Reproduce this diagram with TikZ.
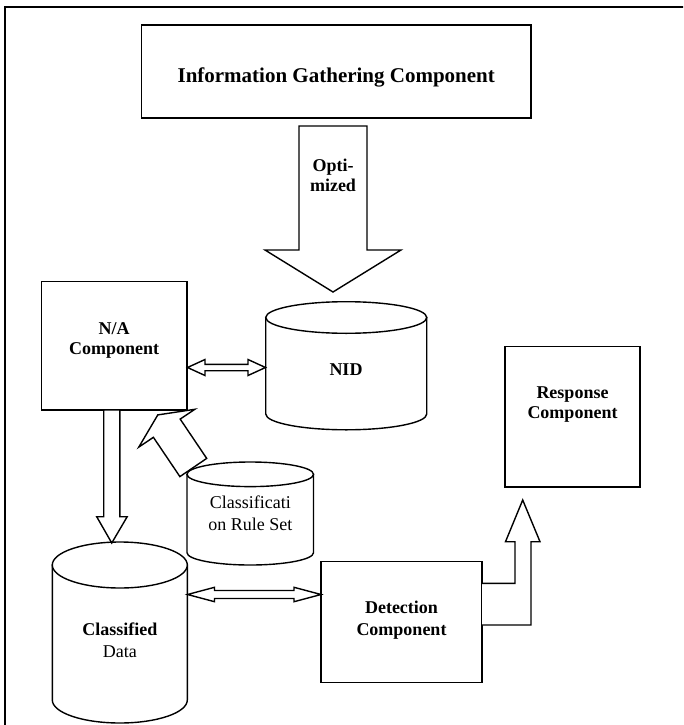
\documentclass[tikz,border=0pt]{standalone}
\usepackage{fontspec}
\setmainfont{Liberation Serif}
\newcommand\mycyl[6]{%
  \draw[shp] (#2-#5,#3) -- (#2-#5,#4)
    arc[start angle=180,end angle=0,x radius=#5,y radius=#6]
    -- (#2+#5,#3) -- cycle;
  \draw[shp] (#2,#3) ellipse[x radius=#5,y radius=#6];
  \coordinate (#1) at (#2,{(#3+#4)/2});
}
\begin{document}
\begin{tikzpicture}[x=1pt,y=-1pt,
  shp/.style={draw=black,line width=1.4pt,fill=white,line join=miter},
  box/.style={shp,rectangle,inner sep=0pt},
  bt/.style={font=\fontsize{18}{21}\selectfont\bfseries,inner sep=0pt,anchor=base},
  rt/.style={font=\fontsize{18}{21}\selectfont,inner sep=0pt,anchor=base},
  ]
\useasboundingbox (0,0) rectangle (683,725);
\clip (0,0) rectangle (683,725);
\fill[white] (0,0) rectangle (683,725);
\draw[line width=2pt] (690,6.7) -- (5,6.7) -- (5,735);

% boxes
\node[box,minimum width=389.5pt,minimum height=93pt] (info) at (336.25,71.5) {};
\node[box,minimum width=145.6pt,minimum height=128.3pt] (na) at (114.2,345.85) {};
\node[box,minimum width=135pt,minimum height=140.3pt] (resp) at (572.5,416.85) {};
\node[box,minimum width=161pt,minimum height=121pt] (det) at (401.5,622.2) {};

% cylinders
\mycyl{nid}{346.25}{317.5}{414}{80.5}{15.8}
\mycyl{crs}{250.25}{474.3}{552.7}{63.25}{12.3}
\mycyl{cdata}{119.8}{565}{700}{67.5}{23}

% block arrows
\draw[shp] (299,126) -- (299,250) -- (265,250) -- (333,292) -- (401,250) -- (367,250) -- (367,126) -- cycle;
\draw[shp] (187.5,367.5) -- (205,359.5) -- (205,364.3) -- (248,364.3) -- (248,359.5) -- (265.5,367.5)
  -- (248,375.5) -- (248,370.7) -- (205,370.7) -- (205,375.5) -- cycle;
\draw[shp] (179.9,476.6) -- (153.4,437.3) -- (138.8,447.1) -- (157.8,414.9) -- (194.8,409.3)
  -- (180.2,419.1) -- (206.7,458.4) -- cycle;
\draw[shp] (103.7,410) -- (103.7,516.7) -- (96.7,516.7) -- (111.75,543) -- (127.2,516.7)
  -- (119.8,516.7) -- (119.8,410) -- cycle;
\draw[shp] (187.5,594.5) -- (214.5,587.3) -- (214.5,590.5) -- (294,590.5) -- (294,587.3) -- (321,594.5)
  -- (294,601.7) -- (294,598.5) -- (214.5,598.5) -- (214.5,601.7) -- cycle;
\draw[shp] (482,583.3) -- (515,583.3) -- (515,541.7) -- (505.5,541.7) -- (522.7,500) -- (540,541.7)
  -- (531,541.7) -- (531,625) -- (482,625);

% texts
\node[bt,font=\fontsize{21}{25}\selectfont\bfseries] (tinfo) at (336.25,82) {Information Gathering Component};
\node[bt] (topt1) at (333,171.7) {Opti-};
\node[bt] (topt2) at (333,191.5) {mized};
\node[bt] (tna1) at (114.2,334) {N/A};
\node[bt] (tna2) at (114.2,354) {Component};
\node[bt] (tnid) at (346,375) {NID};
\node[bt] (tresp1) at (572.5,398.6) {Response};
\node[bt] (tresp2) at (572.5,418.6) {Component};
\node[rt] (tcrs1) at (250.25,508.6) {Classificati};
\node[rt] (tcrs2) at (250.25,530) {on Rule Set};
\node[bt] (tdet1) at (401.5,613.6) {Detection};
\node[bt] (tdet2) at (401.5,635.2) {Component};
\node[bt] (tcd1) at (119.8,635.2) {Classified};
\node[rt] (tcd2) at (119.8,657) {Data};
\end{tikzpicture}
\end{document}
